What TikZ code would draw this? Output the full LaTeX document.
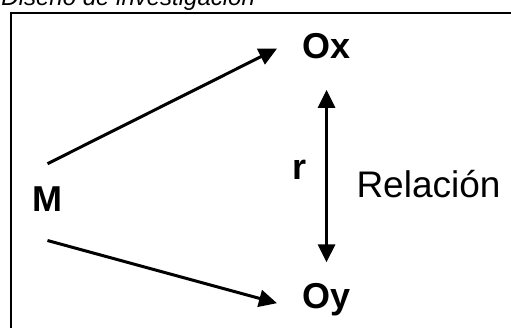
\documentclass[tikz,border=0pt]{standalone}
\usepackage{fontspec}
\setmainfont{Liberation Sans}
\usetikzlibrary{arrows.meta}

\tikzset{
  obs/.style={inner sep=0pt,anchor=base west,font=\fontsize{36}{36}\selectfont\bfseries},
  plain/.style={inner sep=0pt,anchor=base west,font=\fontsize{37}{37}\selectfont},
  head/.tip={Triangle[length=18pt,width=17pt]}
}

\begin{document}
\begin{tikzpicture}[x=1pt,y=-1pt,line width=3pt]
  \useasboundingbox (0,0) rectangle (511,327);
  \clip (0,0) rectangle (511,327);

  % frame and caption
  \draw[line width=2pt] (11,340) -- (11,13) -- (530,13);
  \node[inner sep=0pt,anchor=base west,font=\fontsize{24}{24}\selectfont\itshape]
    (title) at (0,5) {Diseño de investigación};

  \node[obs] (M) at (31,211) {M};
  \node[obs] (Ox) at (301,58) {Ox};
  \node[obs] (Oy) at (301,308) {Oy};
  \node[obs] (r) at (291,179) {r};
  \node[plain] (rel) at (355,197) {Relación};

  \draw[-head] ([shift={(0,-21)}]M.north) -- ([shift={(-24,3)}]Ox.west);
  \draw[-head] ([shift={(0,28)}]M.south) -- ([shift={(-24,4)}]Oy.west);
  \draw[head-head] ([shift={(0,30)}]Ox.south) -- ([shift={(0,-19)}]Oy.north);
\end{tikzpicture}
\end{document}
